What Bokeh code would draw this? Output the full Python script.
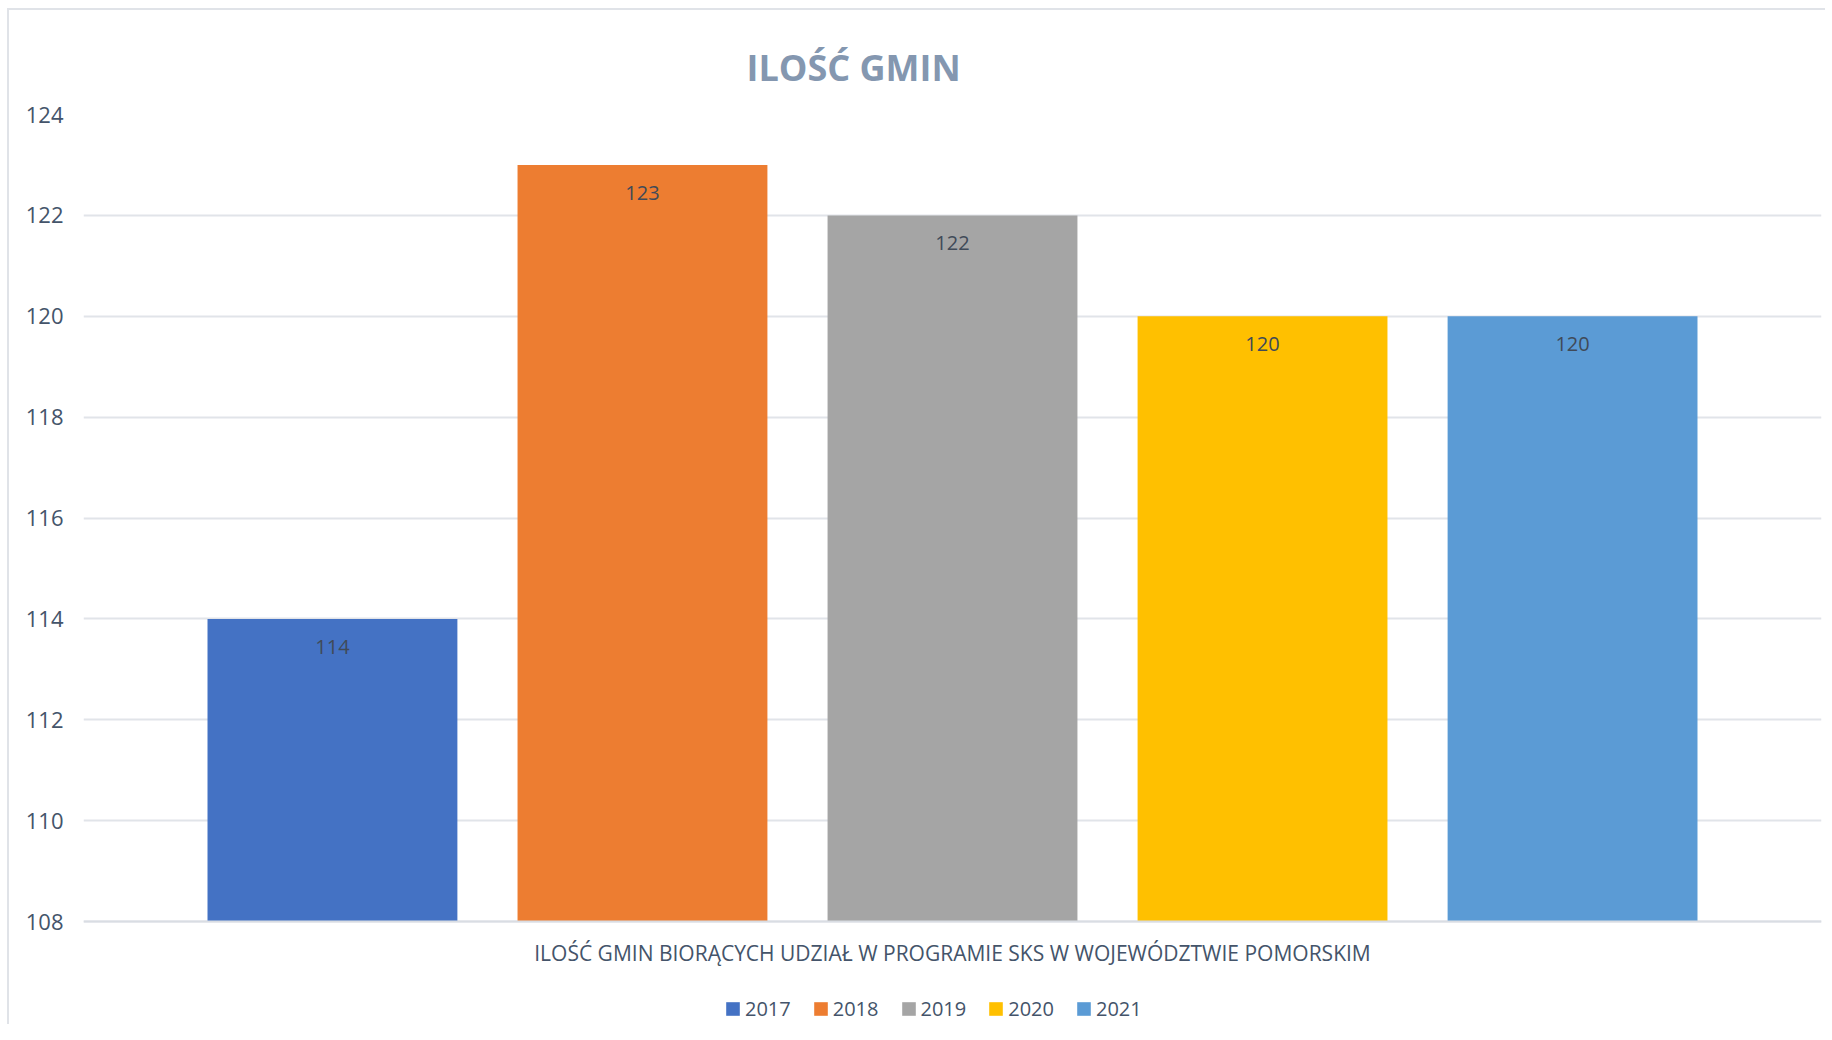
from bokeh.plotting import figure
from bokeh.models import (ColumnDataSource, Range1d, Legend, LegendItem, Title, FixedTicker,
                          Label, Span)
from bokeh.embed import file_html
from bokeh.resources import INLINE
from bokeh.core.properties import value

# ---- data ----
years = ["2017", "2018", "2019", "2020", "2021"]
counts = [114, 123, 122, 120, 120]
colors = ["#4472C4", "#ED7D31", "#A5A5A5", "#FFC000", "#5B9BD5"]
y_ticks = [108, 110, 112, 114, 116, 118, 120, 122, 124]
title_text = "ILOŚĆ GMIN"
x_label = "ILOŚĆ GMIN BIORĄCYCH UDZIAŁ W PROGRAMIE SKS W WOJEWÓDZTWIE POMORSKIM"

FONT = "Open Sans"
TXT = "#44546A"

# ---- layout (pixels) ----
PLOT_H = 807          # height of the value axis 108..124
FRAME_H = 910         # frame also covers the area for axis title and legend
px_per_unit = PLOT_H / (y_ticks[-1] - y_ticks[0])
y_start = y_ticks[-1] - FRAME_H / px_per_unit

src = ColumnDataSource(dict(
    x=list(range(len(years))),
    top=counts,
    color=colors,
    year=years,
    lbl=[str(v) for v in counts],
))

p = figure(frame_width=1738, frame_height=FRAME_H, output_backend="svg", toolbar_location=None,
           x_range=Range1d(-0.803, len(years) - 1 + 0.803),
           y_range=Range1d(y_start, y_ticks[-1]))
p.min_border_left = 74
p.min_border_right = 4
p.min_border_top = 104
p.min_border_bottom = 0
p.outline_line_color = None
p.background_fill_color = "white"
p.border_fill_color = "white"
p.styles = {"border-left": "2px solid #E0E3E8", "border-top": "2px solid #E0E3E8",
            "margin-left": "7px", "margin-top": "8px"}

r = p.vbar(x="x", top="top", bottom=y_ticks[0], width=0.806, fill_color="color",
           line_color=None, source=src)

p.text(x="x", y="top", text="lbl", source=src, y_offset=28,
       text_align="center", text_baseline="middle", text_font=value(FONT),
       text_font_size="20px", text_color="#404A58")

# axes
p.yaxis.ticker = FixedTicker(ticks=y_ticks)
p.yaxis.axis_line_color = None
p.yaxis.major_tick_line_color = None
p.yaxis.minor_tick_line_color = None
p.yaxis.major_label_text_font = FONT
p.yaxis.major_label_text_font_size = "22px"
p.yaxis.major_label_text_color = TXT
p.yaxis.major_label_standoff = 14

p.xaxis.visible = False
p.xgrid.grid_line_color = None
p.ygrid.ticker = FixedTicker(ticks=y_ticks)
p.ygrid.grid_line_color = "#E1E4E9"
p.ygrid.grid_line_width = 2

# category axis line at the base value
p.add_layout(Span(location=y_ticks[0], dimension="width", line_color="#D9DDE3", line_width=2))

# category axis title
p.add_layout(Label(x=(len(years) - 1) / 2, y=y_ticks[0] - 31 / px_per_unit, text=x_label,
                   text_align="center", text_baseline="middle",
                   text_font=FONT, text_font_size="21px", text_color=TXT))

# title
p.add_layout(Title(text=title_text, align="left", offset=663, standoff=46,
                   text_font=FONT, text_font_size="36px", text_font_style="bold",
                   text_color="#8497B0"), "above")

# legend (under the axis title)
items = [LegendItem(label=years[i], renderers=[r], index=i) for i in range(len(years))]
leg = Legend(items=items, orientation="horizontal", location=(641, 2),
             label_text_font=FONT, label_text_font_size="20px", label_text_color=TXT,
             glyph_width=17, glyph_height=17, label_standoff=4, spacing=21,
             border_line_color=None, background_fill_alpha=0, margin=0, padding=4)
p.add_layout(leg)

open("out.html", "w").write(file_html(p, INLINE))
